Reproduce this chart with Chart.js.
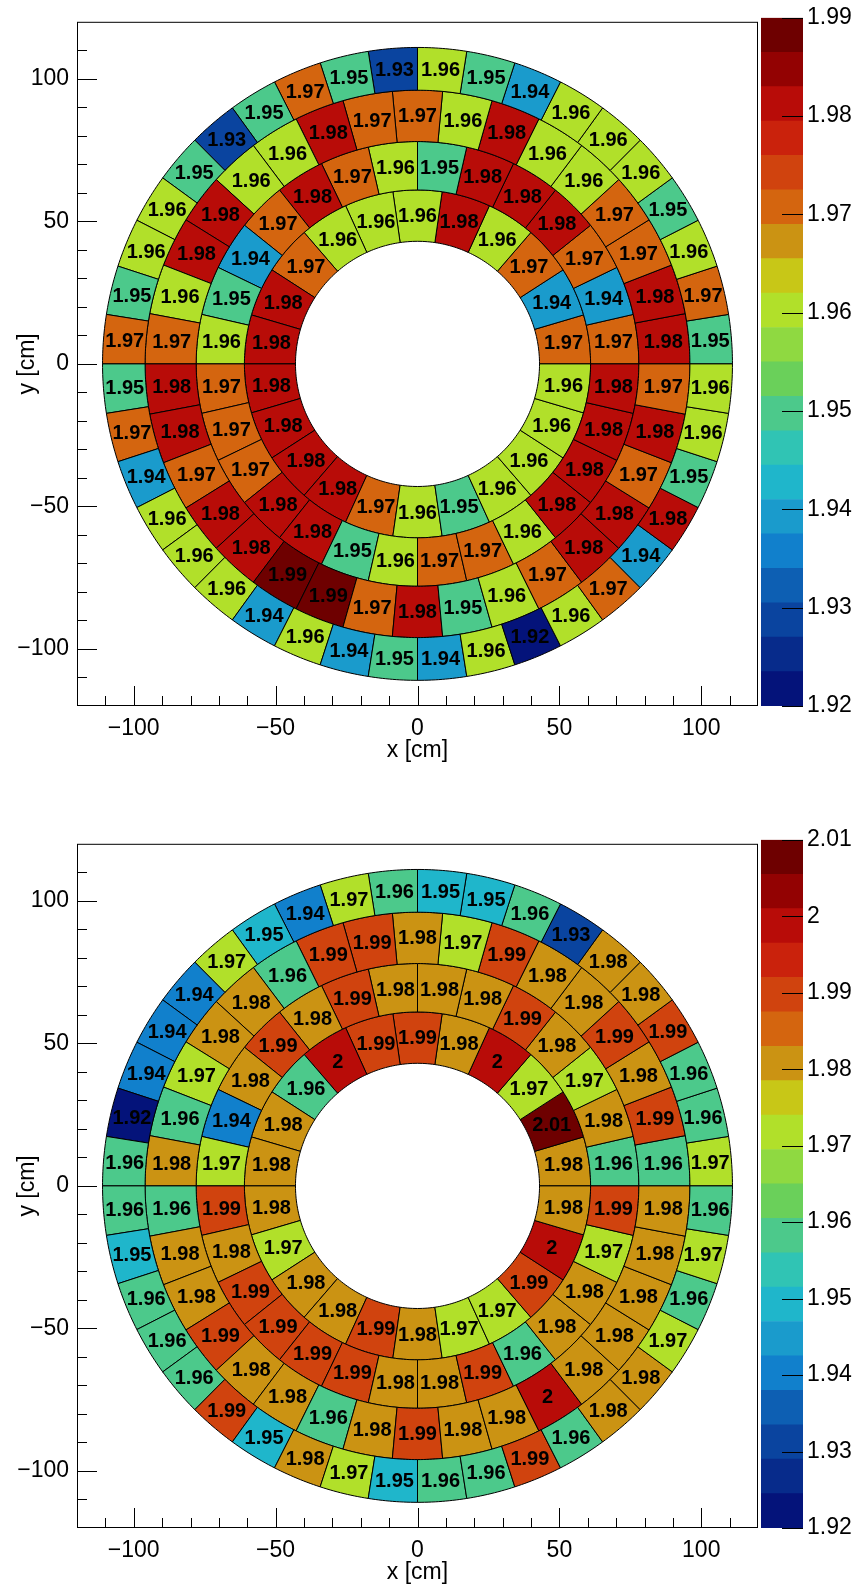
<!DOCTYPE html>
<html>
<head>
<meta charset="utf-8">
<script src="https://cdn.jsdelivr.net/npm/chart.js@4.4.1/dist/chart.umd.min.js"></script>
<style>
  body { margin: 0; background: #fff; width: 862px; height: 1586px; position: relative; overflow: hidden; }
  canvas { position: absolute; }
</style>
</head>
<body>
<canvas id="mapTop" width="862" height="764" style="left:0;top:0"></canvas>
<canvas id="barTop" width="101" height="764" style="left:761px;top:0"></canvas>
<canvas id="mapBottom" width="862" height="764" style="left:0;top:822px"></canvas>
<canvas id="barBottom" width="101" height="764" style="left:761px;top:822px"></canvas>
<script>
// ring edges in cm and number of cells per ring
const ringEdges = [43, 61, 78, 96, 111];
const ringCells = [22, 28, 34, 40];

// cells are listed counter-clockwise, starting at the +x axis
const topRing1 = [1.97, 1.94, 1.97, 1.96, 1.98, 1.96, 1.96, 1.96, 1.97, 1.98, 1.98,
                  1.98, 1.98, 1.98, 1.98, 1.97, 1.96, 1.95, 1.96, 1.96, 1.96, 1.96];
const topRing2 = [1.97, 1.94, 1.97, 1.98, 1.98, 1.98, 1.95, 1.96, 1.97, 1.98, 1.97, 1.94, 1.95, 1.96,
                  1.97, 1.97, 1.97, 1.98, 1.98, 1.95, 1.96, 1.97, 1.97, 1.96, 1.98, 1.98, 1.98, 1.98];
const topRing3 = [1.98, 1.98, 1.97, 1.97, 1.96, 1.96, 1.98, 1.96, 1.97, 1.97, 1.98, 1.96, 1.96, 1.98, 1.98, 1.96, 1.97,
                  1.98, 1.98, 1.97, 1.98, 1.98, 1.99, 1.99, 1.97, 1.98, 1.95, 1.96, 1.97, 1.98, 1.98, 1.97, 1.98, 1.97];
const topRing4 = [1.95, 1.97, 1.96, 1.95, 1.96, 1.96, 1.96, 1.94, 1.95, 1.96,
                  1.93, 1.95, 1.97, 1.95, 1.93, 1.95, 1.96, 1.96, 1.95, 1.97,
                  1.95, 1.97, 1.94, 1.96, 1.96, 1.96, 1.94, 1.96, 1.94, 1.95,
                  1.94, 1.96, 1.92, 1.96, 1.97, 1.94, 1.98, 1.95, 1.96, 1.96];

const bottomRing1 = [1.98, 2.01, 1.97, 2, 1.98, 1.99, 1.99, 2, 1.96, 1.98, 1.98,
                     1.98, 1.97, 1.98, 1.98, 1.99, 1.98, 1.97, 1.97, 1.99, 2, 1.98];
const bottomRing2 = [1.96, 1.98, 1.97, 1.98, 1.99, 1.98, 1.98, 1.98, 1.99, 1.98, 1.99, 1.98, 1.94, 1.97,
                     1.99, 1.98, 1.99, 1.99, 1.99, 1.99, 1.98, 1.98, 1.99, 1.96, 1.98, 1.98, 1.97, 1.99];
const bottomRing3 = [1.96, 1.99, 1.98, 1.99, 1.98, 1.98, 1.99, 1.97, 1.98, 1.99, 1.99, 1.96, 1.98, 1.98, 1.97, 1.96, 1.98,
                     1.96, 1.98, 1.98, 1.99, 1.98, 1.98, 1.96, 1.98, 1.99, 1.98, 1.98, 2, 1.98, 1.98, 1.98, 1.98, 1.98];
const bottomRing4 = [1.97, 1.96, 1.96, 1.99, 1.98, 1.98, 1.93, 1.96, 1.95, 1.95,
                     1.96, 1.97, 1.94, 1.95, 1.97, 1.94, 1.94, 1.94, 1.92, 1.96,
                     1.96, 1.95, 1.96, 1.96, 1.96, 1.99, 1.95, 1.98, 1.97, 1.95,
                     1.96, 1.96, 1.99, 1.96, 1.98, 1.98, 1.97, 1.96, 1.97, 1.96];

const topRange = [1.92, 1.99];
const bottomRange = [1.92, 2.01];
const topBarTicks = [1.92, 1.93, 1.94, 1.95, 1.96, 1.97, 1.98, 1.99];
const bottomBarTicks = [1.92, 1.93, 1.94, 1.95, 1.96, 1.97, 1.98, 1.99, 2.00, 2.01];
const axisTicks = [-100, -50, 0, 50, 100];
const axisMinorTicks = [-110, -100, -90, -80, -70, -60, -50, -40, -30, -20, -10, 0,
                        10, 20, 30, 40, 50, 60, 70, 80, 90, 100, 110];

// colour bands, bottom to top
const palette = ['#04137a', '#072b8b', '#0a449f', '#0d5fb3', '#1180cc', '#1a9bcc', '#1fb6cb',
                 '#30c4b4', '#4cc98b', '#6ad05a', '#8fd941', '#b1e02a', '#c8c717', '#cb9313',
                 '#d4650f', '#d0430e', '#ca220c', '#b80c08', '#930202', '#6e0000'];

Chart.defaults.font.family = "'Liberation Sans', Arial, sans-serif";
Chart.defaults.color = '#000';

function colourFor(v, range) {
  let i = Math.floor((v - range[0]) / (range[1] - range[0]) * palette.length + 1e-9);
  return palette[Math.max(0, Math.min(palette.length - 1, i))];
}

function fmtAxis(v) {
  return v < 0 ? '\u2212' + Math.abs(v) : String(v);
}

// draws the ring cells and their values through the x/y scales
const ringsPlugin = {
  id: 'rings',
  afterDatasetsDraw(chart, args, opts) {
    const { ctx, scales: { x, y } } = chart;
    const pt = (r, a) => [x.getPixelForValue(r * Math.cos(a)), y.getPixelForValue(r * Math.sin(a))];
    const steps = 14;
    ctx.save();
    opts.rings.forEach((vals, i) => {
      const r0 = ringEdges[i], r1 = ringEdges[i + 1], n = vals.length;
      vals.forEach((v, k) => {
        const a0 = 2 * Math.PI * k / n, a1 = 2 * Math.PI * (k + 1) / n;
        ctx.beginPath();
        for (let s = 0; s <= steps; s++) {
          const [X, Y] = pt(r1, a0 + (a1 - a0) * s / steps);
          if (s === 0) ctx.moveTo(X, Y); else ctx.lineTo(X, Y);
        }
        for (let s = steps; s >= 0; s--) {
          const [X, Y] = pt(r0, a0 + (a1 - a0) * s / steps);
          ctx.lineTo(X, Y);
        }
        ctx.closePath();
        ctx.fillStyle = colourFor(v, opts.range);
        ctx.fill();
        ctx.lineWidth = 1;
        ctx.strokeStyle = '#000';
        ctx.stroke();
      });
    });
    ctx.fillStyle = '#000';
    ctx.font = "bold 20px 'Liberation Sans', Arial, sans-serif";
    ctx.textAlign = 'center';
    ctx.textBaseline = 'middle';
    opts.rings.forEach((vals, i) => {
      const rm = (ringEdges[i] + ringEdges[i + 1]) / 2, n = vals.length;
      vals.forEach((v, k) => {
        const [X, Y] = pt(rm, 2 * Math.PI * (k + 0.5) / n);
        ctx.fillText(String(v), X, Y + 1);
      });
    });
    ctx.restore();
  }
};

// frame and inward ticks, ROOT style
const framePlugin = {
  id: 'frame',
  afterDraw(chart) {
    const { ctx, chartArea: a, scales: { x, y } } = chart;
    ctx.save();
    ctx.strokeStyle = '#000';
    ctx.lineWidth = 1;
    ctx.strokeRect(a.left + 0.5, a.top + 0.5, a.width - 1, a.height - 1);
    ctx.beginPath();
    axisMinorTicks.forEach(v => {
      const len = axisTicks.includes(v) ? 20 : 10;
      const X = Math.round(x.getPixelForValue(v)) + 0.5;
      ctx.moveTo(X, a.bottom);
      ctx.lineTo(X, a.bottom - len);
      const Y = Math.round(y.getPixelForValue(v)) + 0.5;
      ctx.moveTo(a.left, Y);
      ctx.lineTo(a.left + len, Y);
    });
    ctx.stroke();
    ctx.restore();
  }
};

const barTicksPlugin = {
  id: 'barTicks',
  afterDraw(chart, args, opts) {
    const { ctx, chartArea: a, scales: { y } } = chart;
    ctx.save();
    ctx.strokeStyle = '#000';
    ctx.lineWidth = 1;
    ctx.beginPath();
    opts.ticks.forEach(v => {
      const Y = Math.round(y.getPixelForValue(v)) + 0.5;
      ctx.moveTo(a.right, Y);
      ctx.lineTo(a.right - 21, Y);
    });
    ctx.stroke();
    ctx.restore();
  }
};

function makeMap(id, rings, range) {
  const tickFont = { size: 23 };
  new Chart(document.getElementById(id), {
    type: 'scatter',
    data: { datasets: [] },
    options: {
      responsive: false,
      animation: false,
      devicePixelRatio: 1,
      layout: { padding: { top: 15, right: 104, bottom: 0, left: 0 } },
      plugins: {
        legend: { display: false },
        tooltip: { enabled: false },
        rings: { rings: rings, range: range }
      },
      scales: {
        x: {
          type: 'linear', min: -120, max: 120,
          afterBuildTicks: s => { s.ticks = axisTicks.map(v => ({ value: v })); },
          afterFit: s => { s.height = 58; },
          grid: { display: false, drawTicks: false },
          border: { display: false },
          ticks: { font: tickFont, padding: 9, autoSkip: false, maxRotation: 0, callback: fmtAxis },
          title: { display: true, text: 'x [cm]', font: tickFont, padding: { top: 0, bottom: 0 } }
        },
        y: {
          type: 'linear', min: -120, max: 120,
          afterBuildTicks: s => { s.ticks = axisTicks.map(v => ({ value: v })); },
          afterFit: s => { s.width = 77; },
          grid: { display: false, drawTicks: false },
          border: { display: false },
          ticks: { font: tickFont, padding: 8, autoSkip: false, callback: fmtAxis },
          title: { display: true, text: 'y [cm]', font: tickFont, padding: { top: 14, bottom: 0 } }
        }
      }
    },
    plugins: [ringsPlugin, framePlugin]
  });
}

function makeBar(id, range, ticks) {
  const step = (range[1] - range[0]) / palette.length;
  new Chart(document.getElementById(id), {
    type: 'bar',
    data: {
      labels: [''],
      datasets: palette.map((c, i) => ({
        data: [[range[0] + i * step, range[0] + (i + 1) * step]],
        backgroundColor: c,
        borderWidth: 0,
        grouped: false,
        barPercentage: 1,
        categoryPercentage: 1
      }))
    },
    options: {
      responsive: false,
      animation: false,
      devicePixelRatio: 1,
      layout: { padding: { top: 15, right: 0, bottom: 58, left: 0 } },
      plugins: {
        legend: { display: false },
        tooltip: { enabled: false },
        barTicks: { ticks: ticks }
      },
      scales: {
        x: { display: false },
        y: {
          position: 'right', min: range[0], max: range[1],
          afterBuildTicks: s => { s.ticks = ticks.map(v => ({ value: v })); },
          afterFit: s => { s.width = 59; },
          grid: { display: false, drawTicks: false },
          border: { display: false },
          ticks: { font: { size: 23 }, padding: 4, autoSkip: false, callback: v => String(+v.toFixed(2)) }
        }
      }
    },
    plugins: [barTicksPlugin]
  });
}

makeMap('mapTop', [topRing1, topRing2, topRing3, topRing4], topRange);
makeBar('barTop', topRange, topBarTicks);
makeMap('mapBottom', [bottomRing1, bottomRing2, bottomRing3, bottomRing4], bottomRange);
makeBar('barBottom', bottomRange, bottomBarTicks);
</script>
</body>
</html>
